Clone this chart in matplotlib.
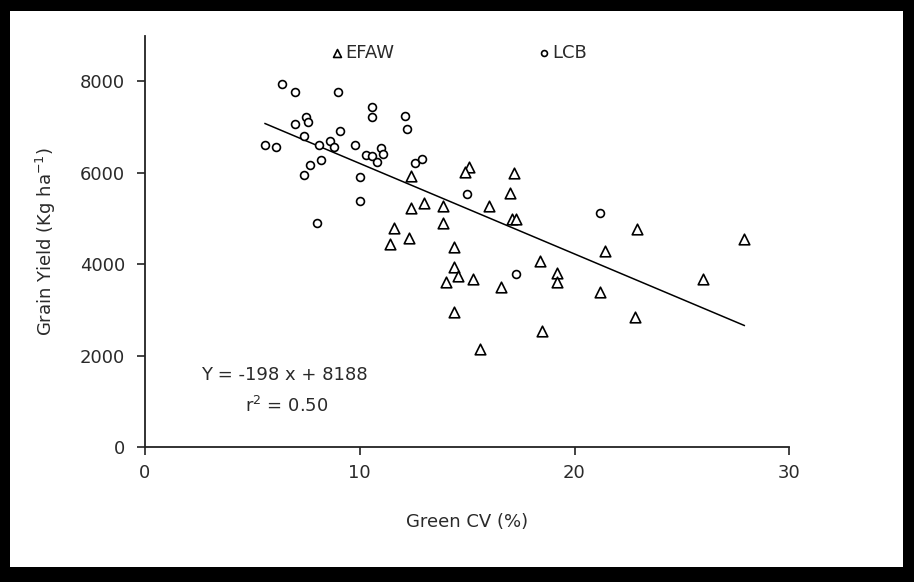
import matplotlib
matplotlib.use("Agg")
import matplotlib.pyplot as plt
from matplotlib.patches import Rectangle

# Green CV (%) and grain yield (kg/ha) for the EFAW plots
efaw_cv = [12.4, 15.1, 14.9, 17.2, 17.0, 13.0, 12.4, 13.9, 16.0, 17.1, 17.3,
           13.9, 11.6, 11.4, 12.3, 14.4, 14.4, 14.6, 14.0, 15.3, 16.6, 18.4,
           19.2, 19.2, 14.4, 18.5, 15.6, 22.9, 21.4, 21.2, 22.8, 26.0, 27.9]
efaw_yield = [5940, 6130, 6010, 5990, 5570, 5350, 5240, 5270, 5270, 4990, 4990,
              4900, 4790, 4450, 4570, 4380, 3940, 3740, 3610, 3690, 3500, 4070,
              3820, 3610, 2950, 2540, 2150, 4780, 4290, 3390, 2840, 3670, 4560]

# Green CV (%) and grain yield (kg/ha) for the LCB plots
lcb_cv = [6.4, 7.0, 9.0, 10.6, 10.6, 12.1, 12.2, 7.5, 7.6, 7.0, 9.1, 7.4,
          5.6, 6.1, 8.1, 8.6, 8.8, 9.8, 11.0, 10.3, 10.6, 11.1, 10.8, 8.2,
          7.7, 7.4, 10.0, 10.0, 8.0, 12.6, 12.9, 15.0, 17.3, 21.2]
lcb_yield = [7950, 7760, 7760, 7440, 7220, 7250, 6950, 7220, 7120, 7060, 6920,
             6800, 6600, 6570, 6610, 6700, 6560, 6610, 6540, 6400, 6360, 6410,
             6240, 6290, 6170, 5950, 5910, 5390, 4910, 6210, 6300, 5540, 3800,
             5120]

# Fitted regression: Y = -198 x + 8188, r^2 = 0.50
slope = -198
intercept = 8188
r_squared = 0.50

x_ticks = [0, 10, 20, 30]
y_ticks = [0, 2000, 4000, 6000, 8000]

plt.rcParams['font.family'] = ['DejaVu Sans']
text_color = '#2a2a2a'

fig = plt.figure(figsize=(9.14, 5.82), dpi=100, facecolor='black')
# white panel inside the black frame
fig.patches.append(Rectangle((10 / 914, 15 / 582), 893 / 914, 556 / 582,
                             transform=fig.transFigure, facecolor='white',
                             edgecolor='none', zorder=-10))

ax = fig.add_axes([144.7 / 914, 1 - 447.3 / 582,
                   (789.4 - 144.7) / 914, (447.3 - 35.7) / 582])
ax.set_facecolor('none')

h_efaw = ax.scatter(efaw_cv, efaw_yield, marker='^', s=58, facecolors='white',
                    edgecolors='black', linewidths=1.2, zorder=3)
h_lcb = ax.scatter(lcb_cv, lcb_yield, marker='o', s=32, facecolors='white',
                   edgecolors='black', linewidths=1.2, zorder=3)

all_cv = efaw_cv + lcb_cv
x_fit = [min(all_cv), max(all_cv)]
y_fit = [slope * v + intercept for v in x_fit]
ax.plot(x_fit, y_fit, color='black', lw=1.1, zorder=2)

ax.set_xlim(0, 30)
ax.set_ylim(0, 9000)
ax.set_xticks(x_ticks)
ax.set_yticks(y_ticks)
ax.spines['top'].set_visible(False)
ax.spines['right'].set_visible(False)
for sp in ('left', 'bottom'):
    ax.spines[sp].set_linewidth(1.3)
    ax.spines[sp].set_color('#222222')
ax.tick_params(axis='both', direction='out', length=6, width=1.2,
               colors='#222222', labelsize=13, labelcolor=text_color)
ax.tick_params(axis='x', pad=6)
ax.tick_params(axis='y', pad=8)

ax.set_xlabel('Green CV (%)', fontsize=13, color=text_color, labelpad=22)
ax.set_ylabel('Grain Yield (Kg ha$^{\\mathregular{-1}}$)', fontsize=13,
              color=text_color, labelpad=16)

ax.text(6.5, 1580, 'Y = %d x + %d' % (slope, intercept), fontsize=13,
        color=text_color, ha='center', va='center')
ax.text(6.6, 900, 'r$^{2}$ = %.2f' % r_squared, fontsize=13,
        color=text_color, ha='center', va='center')

ax.legend([h_efaw, h_lcb], ['EFAW', 'LCB'], ncol=2, frameon=False,
          fontsize=13, labelcolor=text_color, markerscale=0.75,
          handlelength=0.6, handletextpad=0.15, columnspacing=8.0,
          loc='center left', bbox_to_anchor=(0.29, 0.958),
          borderaxespad=0, borderpad=0)

fig.savefig('out.png', dpi=100, facecolor='black')
